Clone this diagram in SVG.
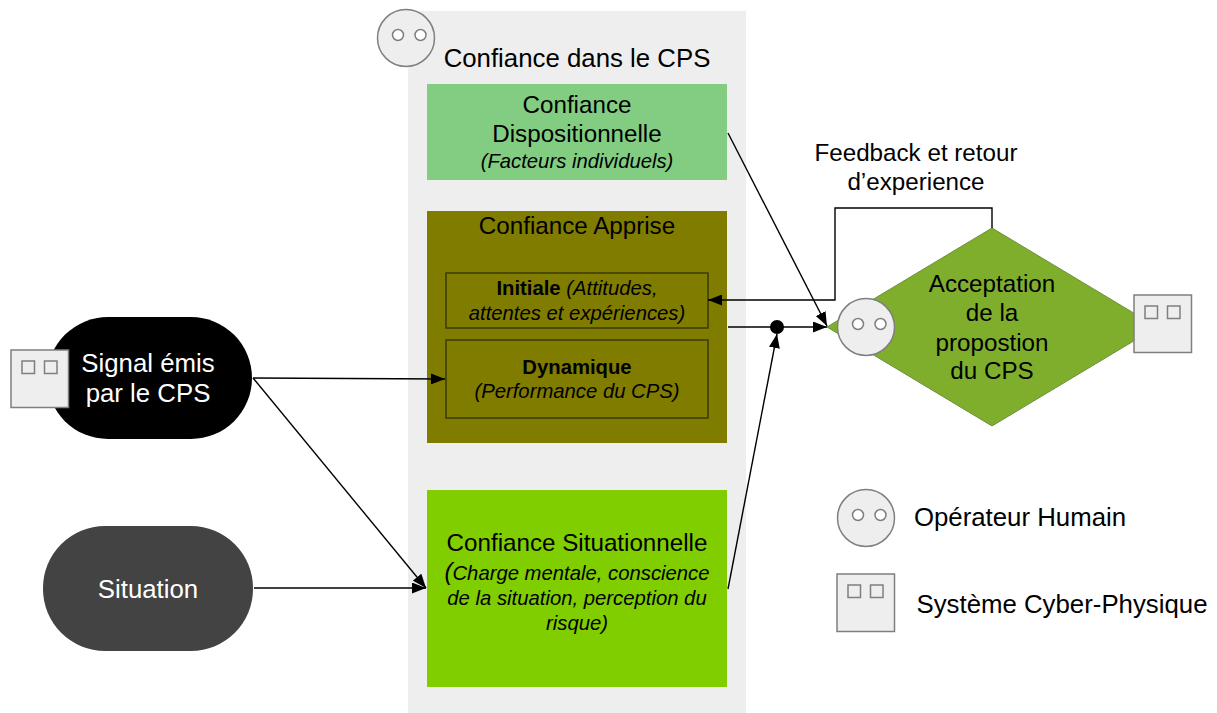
<svg xmlns="http://www.w3.org/2000/svg" width="1217" height="713" viewBox="0 0 1217 713">
<defs>
<marker id="arrow" viewBox="0 0 14 11" refX="14" refY="5.500" markerWidth="14" markerHeight="11" markerUnits="userSpaceOnUse" orient="auto"><path d="M0 0L14 5.500L0 11Z" fill="#000"/></marker>
<g id="human"><circle cx="0" cy="0" r="28.5" fill="#eeeeee" stroke="#7f7f7f" stroke-width="1.5"/><circle cx="-8" cy="-3" r="5.5" fill="#fff" stroke="#7f7f7f" stroke-width="1.5"/><circle cx="14.500" cy="-3" r="5.500" fill="#fff" stroke="#7f7f7f" stroke-width="1.5"/></g>
<g id="cps"><rect x="0" y="0" width="57.500" height="57.500" fill="#eeeeee" stroke="#7f7f7f" stroke-width="1.5"/><rect x="11" y="11" width="12.500" height="12.500" fill="none" stroke="#7f7f7f" stroke-width="1.5"/><rect x="33.500" y="11" width="12.500" height="12.500" fill="none" stroke="#7f7f7f" stroke-width="1.5"/></g>
</defs>
<style>
text{font-family:"Liberation Sans",Arial,sans-serif;font-size:24.2px;fill:#000;text-anchor:middle}
.lg{font-size:25.8px}
.sm{font-size:20.3px}
.it{font-style:italic}
.b{font-weight:bold}
.w{fill:#fff}
.box{fill:none;stroke:#3a3a00;stroke-width:1.5}
.c{fill:none;stroke:#000;stroke-width:1.4}
.a{marker-end:url(#arrow)}
</style>
<rect id="panel" x="408" y="11" width="338" height="702" fill="#eeeeee"/>
<use href="#human" x="406" y="38"/>
<text x="577" y="67" class="lg">Confiance dans le CPS</text>

<g id="dispo">
<rect x="427" y="84" width="300" height="96" fill="#82cd82"/>
<text x="577" y="113">Confiance</text>
<text x="577" y="142">Dispositionnelle</text>
<text x="577" y="168" class="sm it">(Facteurs individuels)</text>
</g>

<g id="apprise">
<rect x="427" y="211" width="300" height="232" fill="#807c00"/>
<text x="577" y="234">Confiance Apprise</text>
</g>
<g id="initiale">
<rect x="446" y="273" width="262" height="55" class="box"/>
<text x="577" y="295" class="sm"><tspan class="b">Initiale</tspan> <tspan class="it">(Attitudes,</tspan></text>
<text x="577" y="320" class="sm it">attentes et expériences)</text>
</g>
<g id="dynamique">
<rect x="446" y="340" width="262" height="78" class="box"/>
<text x="577" y="374" class="sm b">Dynamique</text>
<text x="577" y="398" class="sm it">(Performance du CPS)</text>
</g>

<g id="situationnelle">
<rect x="427" y="490" width="300" height="197" fill="#80cd00"/>
<text x="577" y="551">Confiance Situationnelle</text>
<text x="577" y="580" class="sm it"><tspan font-size="24">(</tspan>Charge mentale, conscience</text>
<text x="577" y="605" class="sm it">de la situation, perception du</text>
<text x="577" y="630" class="sm it">risque)</text>
</g>

<g id="signal">
<rect x="47" y="317" width="205" height="122" rx="61" ry="61" fill="#000"/>
<use href="#cps" x="11" y="350"/>
<text x="148" y="372" class="w lg">Signal émis</text>
<text x="148" y="402" class="w lg">par le CPS</text>
</g>

<g id="situation">
<rect x="43" y="526" width="210" height="125" rx="62" ry="62" fill="#434343"/>
<text x="148" y="598" class="w lg">Situation</text>
</g>

<g id="acceptation">
<path d="M992 228L1157 327L992 426L827 327Z" fill="#7fae2c" stroke="#6f8f3f" stroke-width="1"/>
<use href="#human" x="866" y="327"/>
<use href="#cps" x="1134" y="295"/>
<text x="992" y="292">Acceptation</text>
<text x="992" y="321">de la</text>
<text x="992" y="351">propostion</text>
<text x="992" y="379">du CPS</text>
</g>

<g id="connectors">
<path class="c a" d="M728 133L827 326"/>
<path class="c a" d="M992 228V208H835V300H708"/>
<path class="c a" d="M728 327H827"/>
<path class="c a" d="M728 589L777 334"/>
<path class="c a" d="M253 378L445 379"/>
<path class="c a" d="M253 378L426 588"/>
<path class="c a" d="M254 588H426"/>
<circle cx="777" cy="327" r="7" fill="#000"/>
</g>

<text id="feedback1" x="916" y="161">Feedback et retour</text>
<text id="feedback2" x="916" y="190">d’experience</text>

<g id="legend-humain">
<use href="#human" x="866" y="518"/>
<text x="1020" y="526" class="lg">Opérateur Humain</text>
</g>
<g id="legend-cps">
<use href="#cps" x="837" y="574"/>
<text x="1062" y="613" class="lg">Système Cyber-Physique</text>
</g>
</svg>
